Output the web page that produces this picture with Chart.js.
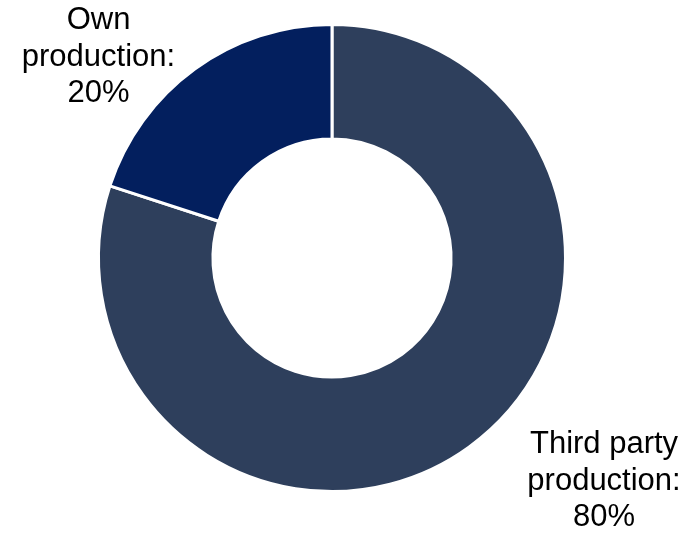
<!DOCTYPE html>
<html>
<head>
<meta charset="utf-8">
<script src="https://cdn.jsdelivr.net/npm/chart.js@4/dist/chart.umd.min.js"></script>
<style>
    html, body { margin: 0; padding: 0; background: #ffffff; }
    #wrap { width: 697px; height: 533px; position: relative; }
</style>
</head>
<body>
<div id="wrap"><canvas id="production-split"></canvas></div>
<script>
    var categories = ['Third party production', 'Own production'];
    var shares = [80, 20];
    var sliceColors = ['#2e3f5c', '#031f5e'];

    // label anchor, as a multiple of the outer radius from the centre
    var labelAnchors = [[1.165, 0.955], [-1.0, -0.86]];

    var sliceLabels = {
        id: 'sliceLabels',
        afterDraw: function (chart) {
            var ctx = chart.ctx;
            var arcs = chart.getDatasetMeta(0).data;
            ctx.save();
            ctx.font = '31px "Liberation Sans", Arial, sans-serif';
            ctx.fillStyle = '#000000';
            ctx.textAlign = 'center';
            ctx.textBaseline = 'middle';
            arcs.forEach(function (arc, i) {
                var cx = arc.x + labelAnchors[i][0] * arc.outerRadius;
                var cy = arc.y + labelAnchors[i][1] * arc.outerRadius;
                var words = categories[i].split(' ');
                var lines = [words.slice(0, -1).join(' '), words[words.length - 1] + ':', shares[i] + '%'];
                lines.forEach(function (line, j) {
                    ctx.fillText(line, cx, cy + (j - 1) * 36.5);
                });
            });
            ctx.restore();
        }
    };

    var chart = new Chart('production-split', {
        type: 'doughnut',
        data: {
            labels: categories,
            datasets: [{
                data: shares,
                backgroundColor: sliceColors,
                borderColor: '#ffffff',
                borderWidth: 3
            }]
        },
        options: {
            responsive: true,
            maintainAspectRatio: false,
            animation: false,
            cutout: '51%',
            layout: {
                padding: { top: 23, bottom: 40, left: 97, right: 130 }
            },
            plugins: {
                legend: { display: false },
                tooltip: { enabled: false }
            }
        },
        plugins: [sliceLabels]
    });
</script>
</body>
</html>
